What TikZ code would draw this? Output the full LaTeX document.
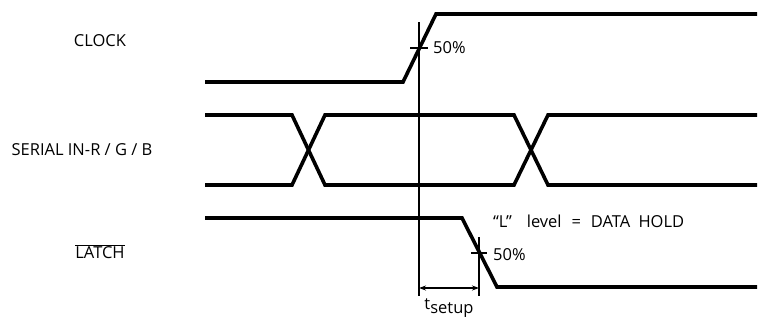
\documentclass[tikz,border=0pt]{standalone}
\usepackage{fontspec}
\setmainfont{Open Sans}
\usetikzlibrary{arrows.meta}
\begin{document}
\begin{tikzpicture}[x=1pt, y=-1pt,
    sig/.style={line width=3.6pt, line join=miter},
    guide/.style={line width=1.5pt},
    lbl/.style={font=\fontsize{16.5}{18}\selectfont, inner sep=0pt}]

  \useasboundingbox (0,0) rectangle (759,322);

  % Signal names
  \node[lbl] (clk) at (100,41) {CLOCK};
  \node[lbl] (sin) at (82,150) {SERIAL IN-R / G / B};
  \node[lbl] (lat) at (100,252) {$\overline{\mbox{LATCH}}$};

  % CLOCK waveform
  \draw[sig] (205,82) -- (403,82) -- (436,14) -- (757,14);

  % SERIAL IN data, two crossings
  \draw[sig] (205,115) -- (292,115) -- (325,185) -- (514,185) -- (548,115) -- (757,115);
  \draw[sig] (205,185) -- (292,185) -- (325,115) -- (514,115) -- (548,185) -- (757,185);

  % LATCH waveform
  \draw[sig] (205,218) -- (462,218) -- (497,287) -- (757,287);

  % Reference lines and 50% marks
  \draw[guide] (419,22) -- (419,296);
  \draw[guide] (479,237) -- (479,296);
  \draw[guide] (410,48) -- (428,48);
  \draw[guide] (471,253) -- (487,253);
  \node[lbl, anchor=west] (clkpct) at (433,48) {50\%};
  \node[lbl, anchor=west] (latpct) at (493,255) {50\%};
  \node[lbl, anchor=west] (note) at (493,221)
    {``L''\hspace{0.9em}level\hspace{0.6em}=\hspace{0.6em}DATA\hspace{0.5em}HOLD};

  % Setup time
  \coordinate (su1) at (419,288);
  \coordinate (su2) at (479,288);
  \draw[guide, {Stealth[length=7pt,width=5pt]}-{Stealth[length=7pt,width=5pt]}] (su1) -- (su2);
  \node[lbl] (tsu) at (449,308) {t\raisebox{-4pt}{setup}};
\end{tikzpicture}
\end{document}
